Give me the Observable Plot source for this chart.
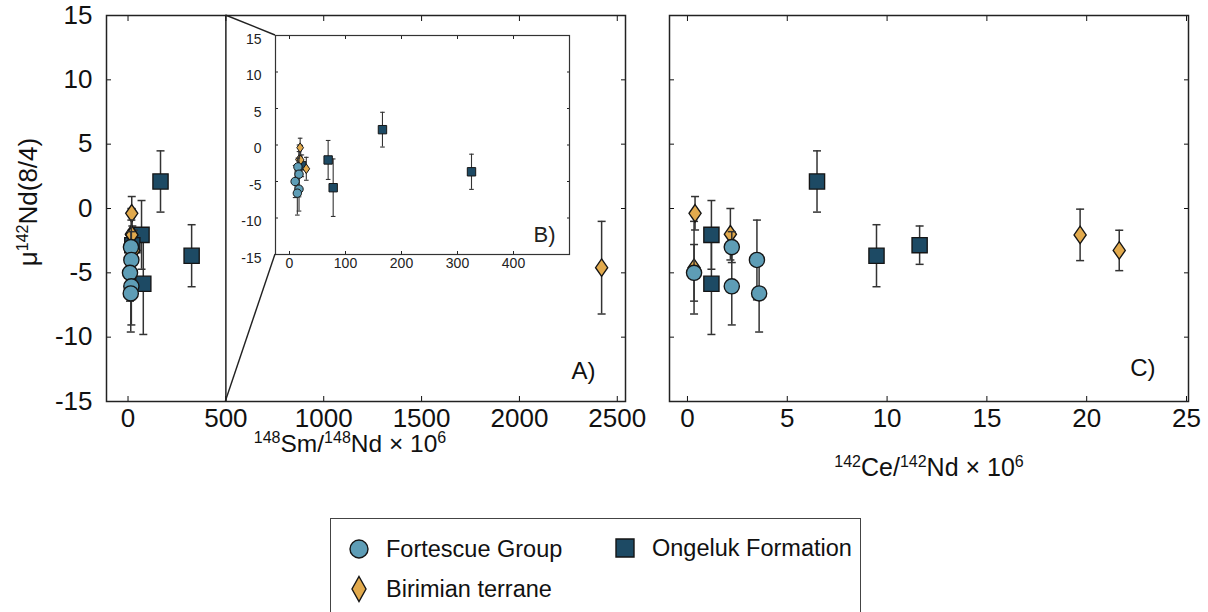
<!DOCTYPE html>
<html><head><meta charset="utf-8">
<script src="https://cdn.jsdelivr.net/npm/d3@7"></script>
<script src="https://cdn.jsdelivr.net/npm/@observablehq/plot@0.6"></script>
<style>
html,body{margin:0;padding:0;background:#fff;overflow:hidden;}
#root{position:relative;width:1208px;height:612px;overflow:hidden;font-family:"Liberation Sans",Arial,sans-serif;background:#fff;}
.abs{position:absolute;}
</style></head><body><div id="root"></div>
<script>
// ---------------- data ----------------
const groupNames = ["Ongeluk Formation", "Birimian terrane", "Fortescue Group"];
const groupColors = ["#1d4a64", "#e2aa4d", "#5e9db6"];

// Ongeluk Formation (squares)
const ongSmNd = [69, 78, 166, 325, 22];
const ongCeNd = [1.2, 1.2, 6.49, 9.47, 11.63];
const ongMu   = [-2.05, -5.85, 2.1, -3.67, -2.85];
const ongErr  = [2.67, 3.94, 2.38, 2.41, 1.49];

// Birimian terrane (diamonds)
const birSmNd = [19, 2420, 17, 20, 30];
const birCeNd = [0.38, 0.33, 2.15, 19.67, 21.63];
const birMu   = [-0.37, -4.6, -2.0, -2.05, -3.26];
const birErr  = [1.3, 3.6, 2.0, 2.0, 1.57];

// Fortescue Group (circles)
const forSmNd = [15, 17, 10, 17, 14];
const forCeNd = [2.22, 3.48, 0.33, 2.22, 3.59];
const forMu   = [-3.0, -4.0, -5.0, -6.05, -6.6];
const forErr  = [1.2, 3.1, 2.2, 3.0, 3.0];

const yTicks = [-15, -10, -5, 0, 5, 10, 15];
const aTicks = [0, 500, 1000, 1500, 2000, 2500];
const bTicks = [0, 100, 200, 300, 400];
const cTicks = [0, 5, 10, 15, 20, 25];
const zoomEdge = [500];

// ---------------- build table ----------------
function rows(group, smnd, cend, mu, err) {
  return mu.map((m, i) => ({group, smnd: smnd[i], cend: cend[i], mu: m, lo: m - err[i], hi: m + err[i]}));
}
const data = [
  ...rows(groupNames[0], ongSmNd, ongCeNd, ongMu, ongErr),
  ...rows(groupNames[1], birSmNd, birCeNd, birMu, birErr),
  ...rows(groupNames[2], forSmNd, forCeNd, forMu, forErr)
];

// ---------------- symbols ----------------
const rad = s => Math.sqrt(s / Math.PI);
const symCircle = {draw(c, s) { const r = rad(s); c.moveTo(r, 0); c.arc(0, 0, r, 0, 2 * Math.PI); c.closePath(); }};
const symSquare = {draw(c, s) { const r = rad(s) * 1.0; c.moveTo(-r, -r); c.lineTo(r, -r); c.lineTo(r, r); c.lineTo(-r, r); c.closePath(); }};
const symDiamond = {draw(c, s) { const r = rad(s), h = r * 1.15, w = r * 0.8; c.moveTo(0, -h); c.lineTo(w, 0); c.lineTo(0, h); c.lineTo(-w, 0); c.closePath(); }};
const symCap = {draw(c, s) { const r = rad(s); c.moveTo(-r, 0); c.lineTo(r, 0); }};
const groupSymbols = [symSquare, symDiamond, symCircle];

const FONT = "'Liberation Sans', Arial, sans-serif";
const fmt = d => String(d);

function seriesMarks(xKey, r, capR, sw) {
  const out = [];
  groupNames.forEach((g, i) => {
    const d = data.filter(row => row.group === g);
    out.push(Plot.ruleX(d, {x: xKey, y1: "lo", y2: "hi", stroke: "#333", strokeWidth: sw}));
    out.push(Plot.dot(d, {x: xKey, y: "lo", symbol: symCap, r: capR, stroke: "#333", strokeWidth: sw}));
    out.push(Plot.dot(d, {x: xKey, y: "hi", symbol: symCap, r: capR, stroke: "#333", strokeWidth: sw}));
    out.push(Plot.dot(d, {x: xKey, y: "mu", symbol: groupSymbols[i], r, fill: groupColors[i], stroke: "#151515", strokeWidth: sw * 0.9}));
  });
  return out;
}

function frameAxes(xTicks, showYLabels, tickLen, xPad, yPad, yLabelDy) {
  return [
    Plot.axisX({anchor: "top", ticks: xTicks, tickSize: -tickLen, tickFormat: () => "", label: null}),
    Plot.axisX({anchor: "bottom", ticks: xTicks, tickSize: -tickLen, tickPadding: xPad, tickFormat: fmt, label: null}),
    Plot.axisY({anchor: "right", ticks: yTicks, tickSize: -tickLen, tickFormat: () => "", label: null}),
    Plot.axisY({anchor: "left", ticks: yTicks, tickSize: 0, tickFormat: showYLabels ? fmt : () => "", dx: -yPad, dy: yLabelDy, label: null}),
    Plot.axisY({anchor: "left", ticks: yTicks, tickSize: -tickLen, tickFormat: () => "", label: null})
  ];
}

const root = document.getElementById("root");

// ---------------- Panel A ----------------
const plotA = Plot.plot({
  width: 640, height: 480,
  marginLeft: 106, marginRight: 15, marginTop: 15, marginBottom: 79,
  style: {fontFamily: FONT, fontSize: "26px", color: "#111", background: "transparent", overflow: "visible"},
  x: {domain: [-110, 2542], label: null},
  y: {domain: [-15, 15], label: null},
  marks: [
    Plot.ruleX(zoomEdge, {stroke: "#222", strokeWidth: 1.5}),
    ...seriesMarks("smnd", 7.6, 4, 1.5),
    ...frameAxes(aTicks, true, 5, 12, 5, 0),
    Plot.text(["A)"], {frameAnchor: "bottom-right", textAnchor: "end", lineAnchor: "bottom", dx: -30, dy: -23, fontSize: 24}),
    Plot.frame({stroke: "#222", strokeWidth: 1.5})
  ]
});
plotA.classList.add("abs"); plotA.style.left = "0px"; plotA.style.top = "0px";
root.appendChild(plotA);

// ---------------- Panel C ----------------
const plotC = Plot.plot({
  width: 568, height: 480,
  marginLeft: 29, marginRight: 20, marginTop: 15, marginBottom: 79,
  style: {fontFamily: FONT, fontSize: "26px", color: "#111", background: "transparent", overflow: "visible"},
  x: {domain: [-0.9, 25.1], label: null},
  y: {domain: [-15, 15], label: null},
  marks: [
    ...seriesMarks("cend", 7.6, 4, 1.5),
    ...frameAxes(cTicks, false, 5, 12, 5, 0),
    Plot.text(["C)"], {frameAnchor: "bottom-right", textAnchor: "end", lineAnchor: "bottom", dx: -33, dy: -26, fontSize: 24}),
    Plot.frame({stroke: "#222", strokeWidth: 1.5})
  ]
});
plotC.classList.add("abs"); plotC.style.left = "640px"; plotC.style.top = "0px";
root.appendChild(plotC);

// ---------------- Inset B ----------------
const insetLeft = 250, insetTop = 30;
const plotB = Plot.plot({
  width: 321, height: 244,
  marginLeft: 25, marginRight: 2, marginTop: 5, marginBottom: 20,
  style: {fontFamily: FONT, fontSize: "14px", color: "#222", background: "transparent", overflow: "visible"},
  x: {domain: [-25, 500], label: null},
  y: {domain: [-15, 15], label: null},
  marks: [
    Plot.frame({fill: "white", stroke: "none"}),
    ...seriesMarks("smnd", 4.2, 2.3, 1.1),
    ...frameAxes(bTicks, true, 3, 7, 5, 4),
    Plot.text(["B)"], {frameAnchor: "bottom-right", textAnchor: "end", lineAnchor: "bottom", dx: -14, dy: -13, fontSize: 22}),
    Plot.frame({stroke: "#333", strokeWidth: 1.2})
  ]
});
plotB.classList.add("abs"); plotB.style.left = insetLeft + "px"; plotB.style.top = insetTop + "px";
root.appendChild(plotB);

// ---------------- overlay: zoom lines and axis titles ----------------
const ov = d3.select(root).append("svg").attr("class", "abs")
  .attr("width", 1208).attr("height", 612)
  .style("left", "0px").style("top", "0px").style("pointer-events", "none")
  .style("font-family", FONT).style("fill", "#111");

const ax = plotA.scale("x"), ay = plotA.scale("y");
const bx = plotB.scale("x"), by = plotB.scale("y");
const xz = ax.apply(zoomEdge[0]);
const bLeft = insetLeft + bx.range[0];
const bTop = insetTop + by.range[1];
const bBottom = insetTop + by.range[0];
ov.append("line").attr("x1", xz).attr("y1", ay.apply(15)).attr("x2", bLeft).attr("y2", bTop)
  .attr("stroke", "#222").attr("stroke-width", 1.4);
ov.append("line").attr("x1", xz).attr("y1", ay.apply(-15)).attr("x2", bLeft).attr("y2", bBottom)
  .attr("stroke", "#222").attr("stroke-width", 1.4);

function supText(x, y, parts, size, supSize, rotate) {
  const t = ov.append("text").attr("text-anchor", "middle").attr("font-size", size)
    .attr("transform", rotate ? `translate(${x},${y}) rotate(-90)` : `translate(${x},${y})`);
  let up = false;
  parts.forEach(([s, sup]) => {
    const ts = t.append("tspan").text(s);
    if (sup && !up) { ts.attr("dy", -size * 0.36).attr("font-size", supSize); up = true; }
    else if (sup) { ts.attr("font-size", supSize); }
    else if (!sup && up) { ts.attr("dy", size * 0.36).attr("font-size", size); up = false; }
    else { ts.attr("font-size", size); }
  });
}
supText(37, 202, [["μ", false], ["142", true], ["Nd(8/4)", false]], 26, 16, true);
supText(350, 452, [["148", true], ["Sm/", false], ["148", true], ["Nd × 10", false], ["6", true]], 24.5, 16, false);
supText(929, 476, [["142", true], ["Ce/", false], ["142", true], ["Nd × 10", false], ["6", true]], 25, 16, false);

// ---------------- legend ----------------
const legend = d3.select(root).append("div").attr("class", "abs")
  .style("left", "330px").style("top", "518px").style("width", "531px").style("height", "110px")
  .style("border", "1.5px solid #444").style("box-sizing", "border-box").style("background", "#fff");
const lsvg = legend.append("svg").attr("width", 531).attr("height", 110)
  .style("font-family", FONT).style("font-size", "23.5px");
const legendItems = [
  {name: "Fortescue Group", idx: 2, x: 28, y: 30, path: "M9,0A9,9 0 1,1 -9,0A9,9 0 1,1 9,0Z"},
  {name: "Ongeluk Formation", idx: 0, x: 294, y: 29, path: "M-9,-9L9,-9L9,9L-9,9Z"},
  {name: "Birimian terrane", idx: 1, x: 28, y: 70, path: "M0,-12.5L7,0L0,12.5L-7,0Z"}
];
legendItems.forEach(it => {
  lsvg.append("path").attr("d", it.path).attr("transform", `translate(${it.x},${it.y})`)
    .attr("fill", groupColors[it.idx]).attr("stroke", "#151515").attr("stroke-width", 1.4);
  lsvg.append("text").attr("x", it.x + 27).attr("y", it.y + 8).attr("fill", "#111").text(it.name);
});
</script>
</body></html>
